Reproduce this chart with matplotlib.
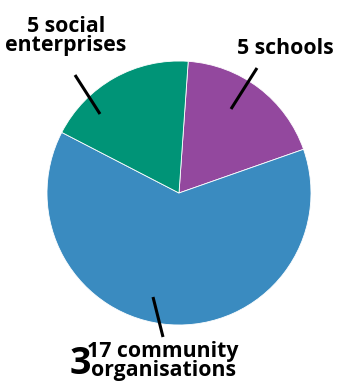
import matplotlib
matplotlib.use('Agg')
import matplotlib.pyplot as plt

labels = ['5 schools', '17 community\norganisations', '5 social\nenterprises']
counts = [5, 17, 5]
colors = ['#93489e', '#3a8bc0', '#009477']

W, H = 338, 383
plt.rcParams['font.family'] = ['Open Sans', 'DejaVu Sans']

fig = plt.figure(figsize=(W / 100, H / 100), dpi=100)
ax = fig.add_axes([0, 0, 1, 1])


def py(y):
    # picture rows (top down) to axes y
    return H - y


ax.pie(counts, colors=colors, startangle=86, counterclock=False,
       center=(179, py(193)), radius=132, frame=True,
       wedgeprops=dict(edgecolor='white', linewidth=0.6))
ax.set_xlim(0, W)
ax.set_ylim(0, H)
ax.set_aspect('equal')
ax.axis('off')

# leader lines
for (x0, y0), (x1, y1) in [((257, 68), (231, 109)),
                           ((153, 297), (163, 337)),
                           ((75, 75), (100, 114))]:
    ax.plot([x0, x1], [py(y0), py(y1)], color='black', lw=2.2,
            solid_capstyle='butt')

text_pos = [(285, 49), (163, 361), (66, 36)]
for lab, (x, y) in zip(labels, text_pos):
    ax.text(x, py(y), lab, ha='center', va='center', fontsize=15.3,
            fontweight='bold', linespacing=0.92)

ax.text(80, py(364), '3', ha='center', va='center', fontsize=27,
        fontweight='bold')

fig.savefig('out.png', dpi=100)
